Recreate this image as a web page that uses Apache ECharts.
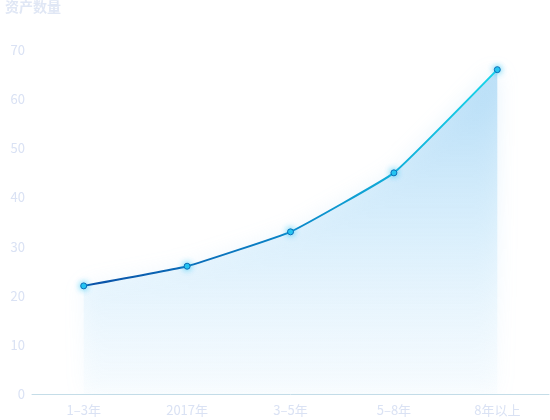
<!DOCTYPE html>
<html>
<head>
<meta charset="utf-8">
<script src="https://cdn.jsdelivr.net/npm/echarts@6/dist/echarts.min.js"></script>
<style>
html,body{margin:0;padding:0;background:#fff;}
#main{width:550px;height:420px;}
</style>
</head>
<body>
<div id="main"></div>
<script>
var categories = ['1–3年', '2017年', '3–5年', '5–8年', '8年以上'];
var values = [22, 26, 33, 45, 66];
var yName = '资产数量';

var myChart = echarts.init(document.getElementById('main'));
var option = {
    animation: false,
    grid: {
        left: 32,
        right: 1,
        top: 50,
        bottom: 26,
        outerBoundsMode: 'none'
    },
    xAxis: {
        type: 'category',
        data: categories,
        boundaryGap: true,
        axisLine: { lineStyle: { color: '#c5dde8' } },
        axisTick: { show: false },
        axisLabel: { color: '#dae2f4', fontSize: 13, margin: 10, fontFamily: 'Noto Sans CJK SC' }
    },
    yAxis: {
        type: 'value',
        name: yName,
        min: 0,
        max: 70,
        interval: 10,
        nameGap: 0,
        nameTextStyle: { color: '#e0e7f5', fontSize: 14, fontWeight: 'bold', align: 'left', padding: [0, 0, 36, -27], fontFamily: 'Noto Sans CJK SC' },
        axisLine: { show: false },
        axisTick: { show: false },
        splitLine: { show: false },
        axisLabel: { color: '#dae2f4', fontSize: 13, margin: 7, fontFamily: 'Noto Sans CJK SC' }
    },
    series: [{
        type: 'line',
        data: values,
        smooth: 0.1,
        symbol: 'circle',
        symbolSize: 6,
        itemStyle: {
            color: '#27c6f2',
            borderColor: '#0a6db8',
            borderWidth: 1,
            shadowColor: 'rgba(20,190,240,0.8)',
            shadowBlur: 6
        },
        lineStyle: {
            width: 2,
            color: new echarts.graphic.LinearGradient(0, 0, 1, 0, [
                { offset: 0, color: '#0a4fa6' },
                { offset: 0.5, color: '#0a86c8' },
                { offset: 1, color: '#18d6ea' }
            ])
        },
        areaStyle: {
            color: new echarts.graphic.LinearGradient(0, 0, 0, 1, [
                { offset: 0, color: 'rgba(140,202,242,0.8)' },
                { offset: 0.5, color: 'rgba(185,226,250,0.55)' },
                { offset: 1, color: 'rgba(230,246,255,0.2)' }
            ]),
            shadowColor: 'rgba(120,190,240,0.35)',
            shadowBlur: 20
        }
    }]
};
myChart.setOption(option);
</script>
</body>
</html>
